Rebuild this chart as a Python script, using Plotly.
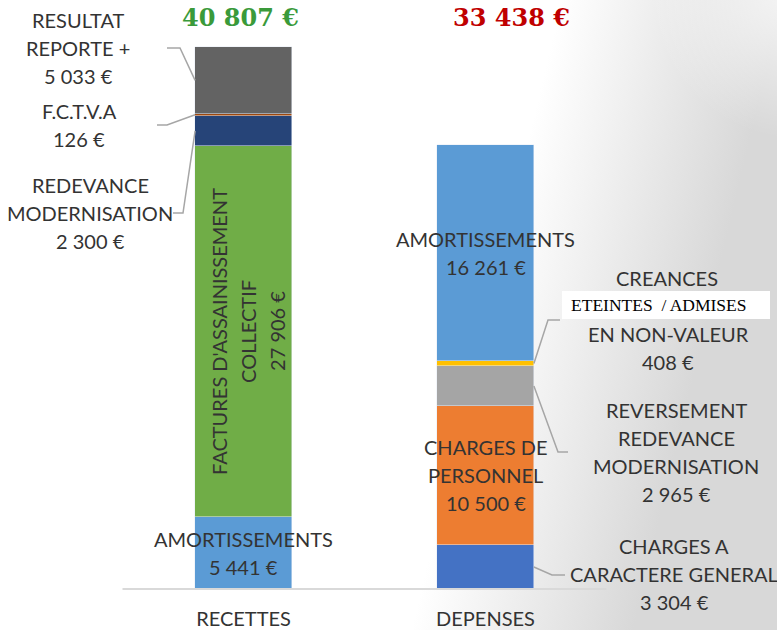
import base64
import plotly.graph_objects as go

# ---------------- data ----------------
CATEGORIES = ["RECETTES", "DEPENSES"]

RECETTES_NAMES = ["AMORTISSEMENTS", "FACTURES D'ASSAINISSEMENT COLLECTIF",
                  "REDEVANCE MODERNISATION", "F.C.T.V.A", "RESULTAT REPORTE +"]
RECETTES_VALUES = [5441, 27906, 2300, 126, 5033]

DEPENSES_NAMES = ["CHARGES A CARACTERE GENERAL", "CHARGES DE PERSONNEL",
                  "REVERSEMENT REDEVANCE MODERNISATION",
                  "CREANCES ETEINTES / ADMISES EN NON-VALEUR", "AMORTISSEMENTS"]
DEPENSES_VALUES = [3304, 10500, 2965, 408, 16261]

TOTALS = [40807, 33438]

# ---------------- styles ----------------
RECETTES_COLORS = ["#5B9BD5", "#70AD47", "#264478", "#9E480E", "#636363"]
DEPENSES_COLORS = ["#4472C4", "#ED7D31", "#A5A5A5", "#FFC000", "#5B9BD5"]
TOTAL_COLORS = ["#3A9A3A", "#C00000"]

W, H = 777, 630
M_B = 41
PLOT_H = H - M_B            # plot area spans pixel rows 0..589
BAR_TOP_PX = 47             # pixel row of the tallest bar's top
CAT_PX = 242.0              # pixels per category step
X0_PX = 243.5               # pixel column of first category centre
BAR_W = 0.4

YMAX = max(sum(RECETTES_VALUES), sum(DEPENSES_VALUES))
Y_TOP = YMAX * PLOT_H / (PLOT_H - BAR_TOP_PX)


def dx(px):
    return (px - X0_PX) / CAT_PX


def dy(py):
    return (PLOT_H - py) / PLOT_H * Y_TOP


def px_(px):
    return px / W


def py_(py):
    return (PLOT_H - py) / PLOT_H


def fmt(v):
    return f"{v:,}".replace(",", " ") + " €"


FONT = "Lato"
TXT = "#333333"
FS = 20
LINE = 28

fig = go.Figure()

for name, v, c in zip(RECETTES_NAMES, RECETTES_VALUES, RECETTES_COLORS):
    fig.add_trace(go.Bar(x=[CATEGORIES[0]], y=[v], name=name, marker_color=c,
                         width=BAR_W, hoverinfo="name+y"))
for name, v, c in zip(DEPENSES_NAMES, DEPENSES_VALUES, DEPENSES_COLORS):
    fig.add_trace(go.Bar(x=[CATEGORIES[1]], y=[v], name=name, marker_color=c,
                         width=BAR_W, hoverinfo="name+y"))


def bases(vals):
    out, s = [], 0
    for v in vals:
        out.append(s)
        s += v
    return out


RB = bases(RECETTES_VALUES)
DB = bases(DEPENSES_VALUES)

annotations = []


def inside(lines, cat_idx, base, v):
    n = len(lines)
    first = (n - 1) / 2 * LINE
    for i, t in enumerate(lines):
        annotations.append(dict(
            x=cat_idx, y=base + v / 2, xref="x", yref="y", text=t,
            showarrow=False, xanchor="center", yanchor="middle",
            yshift=first - i * LINE,
            font=dict(family=FONT, size=FS, color=TXT)))


# inside labels
inside(["AMORTISSEMENTS", fmt(RECETTES_VALUES[0])], 0, RB[0], RECETTES_VALUES[0])
inside(["AMORTISSEMENTS", fmt(DEPENSES_VALUES[4])], 1, DB[4], DEPENSES_VALUES[4])
inside(["CHARGES DE", "PERSONNEL", fmt(DEPENSES_VALUES[1])], 1, DB[1], DEPENSES_VALUES[1])

# rotated label in the green bar
green_lines = ["FACTURES D'ASSAINISSEMENT", "COLLECTIF", fmt(RECETTES_VALUES[1])]
for i, t in enumerate(green_lines):
    annotations.append(dict(
        x=0, y=RB[1] + RECETTES_VALUES[1] / 2, xref="x", yref="y", text=t,
        showarrow=False, textangle=-90, xanchor="center", yanchor="middle",
        xshift=(i - 1) * 29 + 5,
        font=dict(family=FONT, size=FS, color=TXT)))


# outside labels (pixel-placed text blocks, paper coordinates)
def outside(lines, cx, cy_first):
    for i, t in enumerate(lines):
        annotations.append(dict(
            x=px_(cx), y=py_(cy_first + i * LINE), xref="paper", yref="paper",
            text=t, showarrow=False, xanchor="center", yanchor="middle",
            font=dict(family=FONT, size=FS, color=TXT)))


outside(["RESULTAT", "REPORTE +", fmt(RECETTES_VALUES[4])], 78, 20)
outside(["F.C.T.V.A", fmt(RECETTES_VALUES[3])], 79, 111)
outside(["REDEVANCE", "MODERNISATION", fmt(RECETTES_VALUES[2])], 90, 185)
outside(["CREANCES"], 667, 278)
outside(["EN NON-VALEUR", fmt(DEPENSES_VALUES[3])], 668, 334)
outside(["REVERSEMENT", "REDEVANCE", "MODERNISATION", fmt(DEPENSES_VALUES[2])], 676, 410)
outside(["CHARGES A", "CARACTERE GENERAL", fmt(DEPENSES_VALUES[0])], 674, 546)

shapes = []

# white box line
shapes.append(dict(type="rect", xref="paper", yref="paper",
                   x0=px_(562), x1=px_(770), y0=py_(319), y1=py_(291),
                   fillcolor="white", line=dict(width=0), layer="below"))
annotations.append(dict(
    x=px_(569), y=py_(305), xref="paper", yref="paper",
    text="ETEINTES&nbsp; / ADMISES",
    showarrow=False, xanchor="left", yanchor="middle",
    font=dict(family="Liberation Serif", size=17.5, color="#000000")))

# totals
for i, (tot, col) in enumerate(zip(TOTALS, TOTAL_COLORS)):
    annotations.append(dict(
        x=px_([240, 511][i]), y=py_(18), xref="paper", yref="paper",
        text=f"<b>{fmt(tot)}</b>", showarrow=False,
        xanchor="center", yanchor="middle",
        font=dict(family="DejaVu Serif", size=24, color=col)))

# leader lines
LEFT = 0 - BAR_W / 2
RIGHT = 1 + BAR_W / 2


def leader(pts):
    path = "M " + " L ".join(f"{x},{y}" for x, y in pts)
    shapes.append(dict(type="path", path=path, xref="x", yref="y",
                       line=dict(color="#A6A6A6", width=1.5)))


leader([(dx(167), dy(48)), (dx(180), dy(48)),
        (LEFT, RB[4] + RECETTES_VALUES[4] / 2)])
leader([(dx(157), dy(125)), (dx(167), dy(125)),
        (LEFT, RB[3] + RECETTES_VALUES[3] / 2)])
leader([(dx(173), dy(213)), (dx(183), dy(213)),
        (LEFT, RB[2] + RECETTES_VALUES[2] / 2)])
leader([(RIGHT, DB[3] + DEPENSES_VALUES[3] / 2), (dx(548), dy(320)),
        (dx(560), dy(320))])
leader([(RIGHT, DB[2] + DEPENSES_VALUES[2] / 2), (dx(558), dy(452)),
        (dx(568), dy(452))])
leader([(RIGHT, DB[0] + DEPENSES_VALUES[0] / 2), (dx(552), dy(575)),
        (dx(565), dy(575))])

# baseline
shapes.append(dict(type="line", xref="paper", yref="paper",
                   x0=px_(X0_PX - 0.5 * CAT_PX), x1=px_(X0_PX + 1.5 * CAT_PX),
                   y0=0, y1=0, line=dict(color="#D9D9D9", width=2)))

# background gradient
svg = f"""<svg xmlns="http://www.w3.org/2000/svg" width="{W}" height="{H}" viewBox="0 0 {W} {H}" preserveAspectRatio="none">
<defs>
<linearGradient id="a" gradientUnits="userSpaceOnUse" x1="490" y1="300" x2="700" y2="350">
<stop offset="0" stop-color="#ffffff"/>
<stop offset="1" stop-color="#d8d8d8"/>
</linearGradient>
<radialGradient id="b" gradientUnits="userSpaceOnUse" cx="800" cy="-10" r="150">
<stop offset="0" stop-color="#ffffff" stop-opacity="0.8"/>
<stop offset="1" stop-color="#ffffff" stop-opacity="0"/>
</radialGradient>
</defs>
<rect width="{W}" height="{H}" fill="url(#a)"/>
<rect width="{W}" height="{H}" fill="url(#b)"/>
</svg>"""
src = "data:image/svg+xml;base64," + base64.b64encode(svg.encode()).decode()

fig.update_layout(
    width=W, height=H, autosize=False,
    margin=dict(l=0, r=0, t=0, b=M_B, pad=0),
    barmode="stack", showlegend=False, bargap=0,
    paper_bgcolor="white", plot_bgcolor="rgba(0,0,0,0)",
    annotations=annotations, shapes=shapes,
    images=[dict(source=src, xref="paper", yref="paper", x=0, y=1,
                 sizex=1, sizey=H / PLOT_H, xanchor="left", yanchor="top",
                 sizing="stretch", layer="below")],
    xaxis=dict(type="category", categoryorder="array", categoryarray=CATEGORIES,
               range=[dx(0), dx(W)], showgrid=False, zeroline=False,
               showline=False, ticks="outside", ticklen=12,
               tickcolor="rgba(0,0,0,0)", automargin=False,
               tickfont=dict(family=FONT, size=FS, color=TXT)),
    yaxis=dict(range=[0, Y_TOP], visible=False, automargin=False),
)

fig.write_html(
    "out.html",
    config={"displayModeBar": False},
    post_script="document.body.style.margin='0';document.body.style.overflow='hidden';",
)
